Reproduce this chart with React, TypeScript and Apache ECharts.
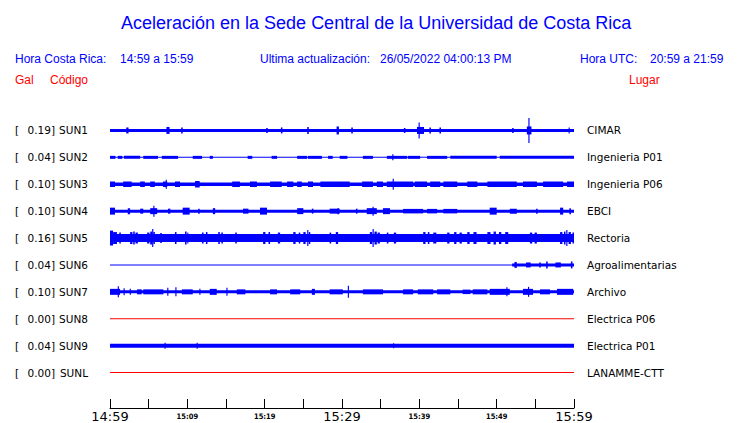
import React, { useEffect, useRef } from 'react';
import * as echarts from 'echarts';

const stations = ['SUN1', 'SUN2', 'SUN3', 'SUN4', 'SUN5', 'SUN6', 'SUN7', 'SUN8', 'SUN9', 'SUNL'];
const peakGal = [0.19, 0.04, 0.1, 0.1, 0.16, 0.04, 0.1, 0.0, 0.04, 0.0];
const places = ['CIMAR', 'Ingenieria P01', 'Ingenieria P06', 'EBCI', 'Rectoria', 'Agroalimentarias', 'Archivo', 'Electrica P06', 'Electrica P01', 'LANAMME-CTT'];
const timeLabels = ['14:59', '15:09', '15:19', '15:29', '15:39', '15:49', '15:59'];

// background (continuous) amplitude of every trace, relative units
const baseAmp = [3, 1, 3.5, 3, 8, 1, 3, 0, 4, 0];

// bursts: [start minute, end minute, amplitude]
const sun1Bursts = [
  [2.1, 2.4, 6], [7.3, 7.7, 7], [9.2, 9.4, 6], [20.2, 20.4, 5], [22.1, 22.3, 6], [25.5, 25.7, 7],
  [29.3, 29.6, 8], [31.2, 31.4, 6], [38.0, 38.2, 5], [39.7, 40.6, 7], [39.9, 40.05, 16], [41.3, 41.5, 6],
  [42.6, 42.8, 6], [52.0, 52.2, 5], [53.9, 54.5, 8], [54.1, 54.25, 25], [59.3, 59.45, 6],
];
const sun2Bursts = [
  [0, 0.7, 3], [1.0, 1.6, 3], [1.8, 3.9, 3], [4.3, 6.2, 3], [6.7, 8.8, 3], [10.7, 11.9, 3], [12.9, 13.3, 3],
  [17.8, 18.4, 3], [20.9, 21.6, 3], [24.2, 25.5, 3], [25.6, 27.4, 3], [28.2, 28.8, 3], [29.7, 30.7, 3],
  [32.7, 34.0, 3], [35.8, 38.4, 3], [36.5, 36.65, 6], [38.5, 40.1, 3], [41.0, 43.6, 3], [44.0, 50.0, 3],
  [50.4, 60, 3],
];
const sun3Bursts = [
  [0, 0.65, 5.5], [1.7, 2.8, 5.5], [3.9, 4.5, 5.5], [5.2, 5.8, 5.5], [6.85, 7.4, 5.5], [7.2, 7.35, 9], [8.4, 9.05, 5.5],
  [11.0, 11.6, 6.5], [15.8, 16.8, 5.5], [18.1, 19.0, 5.5], [20.7, 22.2, 5.5], [22.9, 23.7, 5.5], [24.2, 24.8, 5.5],
  [25.6, 26.25, 5.5], [27.2, 31.0, 5.5], [32.6, 34.0, 5.5], [34.5, 35.3, 5.5], [35.8, 39.2, 5.5], [36.55, 36.7, 11],
  [39.4, 41.0, 5.5], [41.4, 42.7, 5.5], [43.1, 44.9, 5.5], [46.2, 47.5, 5.5], [48.8, 52.6, 5.5], [53.4, 55.2, 5.5],
  [56.0, 58.6, 5.5], [59.1, 60, 5.5],
];
const sun4Bursts = [
  [0, 0.65, 7], [2.3, 2.6, 6], [3.9, 4.3, 5], [5.2, 6.1, 6], [5.6, 5.75, 11], [7.5, 7.8, 5], [9.4, 10.3, 7],
  [11.4, 11.6, 5], [13.3, 13.6, 6], [17.2, 17.9, 5], [19.4, 20.3, 7], [24.2, 25.0, 6], [26.1, 26.3, 5],
  [28.4, 29.7, 5], [29.4, 29.6, 6], [31.8, 32.0, 5], [33.2, 34.5, 6], [33.95, 34.1, 9], [35.3, 36.2, 6],
  [37.9, 40.5, 4.5], [41.0, 42.3, 4.5], [43.1, 44.9, 4.5], [49.1, 50.0, 7], [51.7, 52.6, 5], [55.1, 55.3, 5],
  [58.2, 58.6, 7], [59.4, 59.6, 6],
];
const sun5Bursts = [
  [0, 0.4, 15], [0.4, 0.9, 12], [1.2, 1.4, 11], [2.6, 2.9, 12], [3.0, 3.2, 13], [3.3, 3.6, 11], [4.8, 5.1, 11],
  [5.2, 5.45, 13], [5.45, 5.6, 18], [5.6, 5.8, 12], [6.5, 6.7, 10], [8.4, 8.6, 12], [9.7, 9.9, 13], [10.0, 10.1, 11],
  [11.9, 12.1, 11], [12.4, 12.6, 12], [14.0, 14.2, 12], [14.4, 14.6, 11], [16.2, 16.4, 11], [19.8, 20.1, 12],
  [20.5, 20.7, 12], [21.7, 22.0, 11], [23.7, 24.0, 12], [24.4, 24.6, 11], [25.0, 25.3, 12], [25.5, 25.65, 16],
  [25.7, 25.9, 12], [28.4, 28.6, 11], [29.2, 29.5, 12], [33.6, 33.9, 12], [33.95, 34.1, 18], [34.2, 34.5, 13],
  [34.6, 34.9, 11], [35.8, 36.0, 11], [36.7, 37.0, 11], [40.5, 40.8, 12], [41.1, 41.3, 12], [41.8, 42.2, 11],
  [43.6, 43.9, 11], [44.5, 44.8, 12], [45.2, 45.5, 11], [46.2, 46.5, 12], [47.0, 47.4, 12], [48.8, 49.2, 12],
  [49.6, 49.9, 13], [50.3, 50.6, 12], [51.1, 51.5, 12], [54.3, 54.6, 11], [54.9, 55.2, 11], [58.2, 58.5, 12],
  [58.7, 58.9, 13], [59.0, 59.15, 16], [59.3, 59.6, 12], [59.8, 60, 11],
];
const sun6Bursts = [
  [52.0, 60, 3], [52.3, 52.6, 6], [53.8, 54.4, 5], [55.5, 55.7, 5], [56.4, 56.6, 7], [57.6, 58.3, 5],
  [59.6, 59.8, 7],
];
const sun7Bursts = [
  [0, 1.3, 6], [1.0, 1.15, 11], [1.75, 1.9, 7], [2.55, 2.7, 6], [3.5, 4.1, 5], [4.3, 6.9, 5], [7.4, 7.55, 8],
  [8.45, 8.6, 9], [9.3, 10.7, 5], [11.55, 11.7, 6], [12.9, 13.8, 6], [15.05, 15.2, 8], [16.4, 17.5, 5],
  [20.7, 21.6, 5], [23.3, 24.6, 5], [26.1, 26.5, 6], [28.4, 30.1, 5], [30.75, 30.9, 12], [32.7, 35.3, 5],
  [37.9, 39.2, 5], [39.8, 41.8, 5], [42.3, 44.0, 5], [45.6, 46.6, 4.5], [46.9, 48.8, 5], [49.1, 51.7, 6],
  [51.25, 51.4, 9], [53.4, 54.7, 6], [54.05, 54.2, 10], [55.6, 56.9, 5], [57.8, 59.9, 6],
];
const sun8Bursts: number[][] = [];
const sun9Bursts = [[7.05, 7.2, 6], [11.2, 11.35, 6], [36.6, 36.75, 5]];
const sunlBursts: number[][] = [];

const stationBursts = [sun1Bursts, sun2Bursts, sun3Bursts, sun4Bursts, sun5Bursts, sun6Bursts, sun7Bursts, sun8Bursts, sun9Bursts, sunlBursts];

const BLUE = '#0000ff';
const RED = '#ff0000';

export default function App() {
  const ref = useRef<HTMLDivElement>(null);
  useEffect(() => {
    if (!ref.current) return;
    const chart = echarts.init(ref.current, undefined, { renderer: 'svg' });

    const liveData: number[][] = [];
    const deadData: number[][] = [];
    stations.forEach((_, i) => {
      if (peakGal[i] === 0) {
        deadData.push([0, 60, i, 1]);
        return;
      }
      liveData.push([0, 60, i, baseAmp[i]]);
      stationBursts[i].forEach((b) => liveData.push([b[0], b[1], i, b[2]]));
    });

    const makeRender = (color: string) => (params: any, api: any) => {
      const s = api.value(0);
      const e = api.value(1);
      const row = api.value(2);
      const amp = api.value(3);
      const p0 = api.coord([s, row]);
      const p1 = api.coord([e, row]);
      const band = api.size([0, 1])[1];
      const h = Math.max(1, (amp * band) / 27);
      const w = Math.max(1, p1[0] - p0[0]);
      return {
        type: 'rect',
        shape: { x: p0[0], y: p0[1] - h / 2, width: w, height: h },
        style: { fill: color },
      };
    };

    const headerFont = 'Liberation Sans, Arial, sans-serif';
    const txt = (text: string, left: number, top: number, color: string) => ({
      type: 'text',
      left,
      top,
      style: { text, fill: color, fontSize: 12, fontFamily: headerFont },
    });
    const lblFont = { fontSize: 10.5, fontFamily: 'DejaVu Sans', color: '#000' };

    chart.setOption({
      animation: false,
      backgroundColor: '#ffffff',
      title: {
        text: 'Aceleración en la Sede Central de la Universidad de Costa Rica',
        left: 116,
        top: 9,
        textStyle: { color: BLUE, fontSize: 18, fontWeight: 'normal', fontFamily: headerFont },
      },
      graphic: [
        txt('Hora Costa Rica:', 15, 53, BLUE),
        txt('14:59 a 15:59', 120, 53, BLUE),
        txt('Ultima actualización:', 260, 53, BLUE),
        txt('26/05/2022 04:00:13 PM', 380, 53, BLUE),
        txt('Hora UTC:', 580, 53, BLUE),
        txt('20:59 a 21:59', 650, 53, BLUE),
        txt('Gal', 15, 74, RED),
        txt('Código', 50, 74, RED),
        txt('Lugar', 629, 74, RED),
      ],
      grid: { left: 110, right: 166, top: 117, bottom: 36 },
      xAxis: {
        type: 'value',
        min: 0,
        max: 60,
        interval: 5,
        offset: 22,
        splitLine: { show: false },
        axisLine: { show: true, lineStyle: { color: '#000', width: 1 } },
        axisTick: { show: true, inside: true, length: 9, lineStyle: { color: '#000', width: 1 } },
        axisLabel: {
          margin: 2,
          showMinLabel: true,
          showMaxLabel: true,
          formatter: (v: number) => {
            if (v % 10 !== 0) return '';
            const lbl = timeLabels[v / 10];
            return v % 30 === 0 ? `{big|${lbl}}` : `{small|${lbl}}`;
          },
          rich: {
            big: { fontSize: 13, fontFamily: 'DejaVu Sans', color: '#000' },
            small: { fontSize: 7.5, fontFamily: 'DejaVu Sans Condensed, DejaVu Sans', fontWeight: 'bold', color: '#000', padding: [2, 0, 0, 0] },
          },
        },
      },
      yAxis: [
        {
          type: 'category',
          data: stations,
          inverse: true,
          position: 'left',
          axisLine: { show: false },
          axisTick: { show: false },
          splitLine: { show: false },
          axisLabel: {
            margin: 22,
            formatter: (v: string, i: number) => `{b|[}{v|${peakGal[i].toFixed(2)}]}{n|${v}}`,
            rich: {
              b: { width: 12, align: 'left', ...lblFont },
              v: { width: 28, align: 'right', ...lblFont },
              n: { width: 33, align: 'right', ...lblFont },
            },
          },
        },
        {
          type: 'category',
          data: places,
          inverse: true,
          position: 'right',
          axisLine: { show: false },
          axisTick: { show: false },
          splitLine: { show: false },
          axisLabel: { margin: 13, ...lblFont },
        },
      ],
      series: [
        {
          type: 'custom',
          yAxisIndex: 0,
          renderItem: makeRender(RED),
          data: deadData,
          encode: { x: [0, 1], y: 2 },
        },
        {
          type: 'custom',
          yAxisIndex: 0,
          renderItem: makeRender(BLUE),
          data: liveData,
          encode: { x: [0, 1], y: 2 },
        },
      ],
    });
    return () => chart.dispose();
  }, []);
  return <div ref={ref} style={{ width: 740, height: 423, position: 'absolute', left: 0, top: 0 }} />;
}
